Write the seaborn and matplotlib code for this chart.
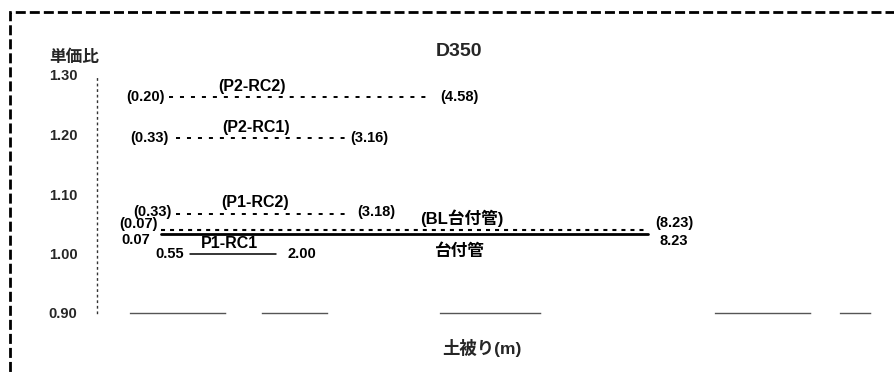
import numpy as np
import pandas as pd
import matplotlib
matplotlib.use("Agg")
import matplotlib.pyplot as plt
from matplotlib.patches import Rectangle
import seaborn as sns

# ---------------- data ----------------
series = ["P2-RC2", "P2-RC1", "P1-RC2", "BL台付管", "台付管", "P1-RC1"]
cover_min = [0.20, 0.33, 0.33, 0.07, 0.07, 0.55]
cover_max = [4.58, 3.16, 3.18, 8.23, 8.23, 2.00]
price_ratio = [1.263, 1.194, 1.067, 1.040, 1.033, 1.000]
bracketed = [True, True, True, True, False, False]
y_ticks = [0.90, 1.00, 1.10, 1.20, 1.30]
title = "D350"
y_label = "単価比"
x_label = "土被り(m)"

# ---------------- layout / style ----------------
sns.set_theme(style="white")
plt.rcParams["font.family"] = ["Liberation Sans", "Noto Sans CJK JP", "DejaVu Sans"]
plt.rcParams["lines.scale_dashes"] = False

line_dashes = {"P2-RC2": (2.9, 5.0), "P2-RC1": (2.9, 5.0), "P1-RC2": (2.9, 5.0),
               "BL台付管": (2.9, 3.6), "台付管": "", "P1-RC1": ""}
line_widths = {"P2-RC2": 1.4, "P2-RC1": 1.4, "P1-RC2": 1.4,
               "BL台付管": 1.5, "台付管": 2.0, "P1-RC1": 1.1}
# name label: x position (m) and vertical pixel offset
name_x = {"P2-RC2": 1.59, "P2-RC1": 1.66, "P1-RC2": 1.64,
          "BL台付管": 5.11, "台付管": 5.06, "P1-RC1": 1.22}
name_dy = {"P2-RC2": 11, "P2-RC1": 11, "P1-RC2": 11,
           "BL台付管": 11, "台付管": -17, "P1-RC1": 10}
start_off = {"P2-RC2": (-4, 0), "P2-RC1": (-8, 0), "P1-RC2": (-5, 2),
             "BL台付管": (-3, 6), "台付管": (-11, -6), "P1-RC1": (-6, 0)}
end_off = {"P2-RC2": (10, 0), "P2-RC1": (5, 0), "P1-RC2": (11, 2),
           "BL台付管": (7, 7), "台付管": (12, -7), "P1-RC1": (11, 0)}
label_size = 10.5
name_size_ascii = 11.5
name_size_cjk = 12

rows = []
for s, a, b, r in zip(series, cover_min, cover_max, price_ratio):
    rows.append({"series": s, "cover": a, "ratio": r})
    rows.append({"series": s, "cover": b, "ratio": r})
df = pd.DataFrame(rows)

fig = plt.figure(figsize=(8.95, 3.73), dpi=100)
ax = fig.add_axes([97 / 895, 60 / 373, 776 / 895, 238 / 373])

sns.lineplot(data=df, x="cover", y="ratio", hue="series", style="series",
             size="series", palette={s: "black" for s in series},
             dashes=line_dashes, sizes=line_widths, estimator=None,
             sort=False, legend=False, ax=ax)

ax.set_xlim(-1.0, 12.0)
ax.set_ylim(0.90, 1.30)
ax.set_xticks([])
ax.set_yticks(y_ticks)
ax.set_yticklabels([f"{v:.2f}" for v in y_ticks], fontsize=10.5, fontweight="bold")
ax.tick_params(axis="y", length=0, pad=14)

txt_kw = dict(fontsize=label_size, fontweight="bold", color="black")
for s, a, b, r, br in zip(series, cover_min, cover_max, price_ratio, bracketed):
    fmt = (lambda v: f"({v:.2f})") if br else (lambda v: f"{v:.2f}")
    ax.annotate(fmt(a), (a, r), xytext=start_off[s], textcoords="offset pixels",
                ha="right", va="center", **txt_kw)
    ax.annotate(fmt(b), (b, r), xytext=end_off[s], textcoords="offset pixels",
                ha="left", va="center", **txt_kw)
    name = f"({s})" if br else s
    size = name_size_ascii if name.isascii() else name_size_cjk
    ax.annotate(name, (name_x[s], r), xytext=(0, name_dy[s]),
                textcoords="offset pixels", ha="center", va="center",
                fontsize=size, fontweight="bold", color="black")

ax.text(0.466, 1.097, title, transform=ax.transAxes, ha="center", va="center",
        fontsize=14, fontweight="bold")
ax.set_ylabel(y_label, rotation=0, fontsize=12, fontweight="bold")
ax.yaxis.set_label_coords(-0.030, 1.076)
ax.yaxis.label.set_va("center")
ax.yaxis.label.set_ha("center")
ax.set_xlabel(x_label, fontsize=12.5, fontweight="bold")
ax.xaxis.set_label_coords(0.496, -0.147)
ax.xaxis.label.set_va("center")

for side in ["top", "right"]:
    ax.spines[side].set_visible(False)
ax.spines["left"].set_color("#333333")
ax.spines["left"].set_linewidth(1.0)
ax.spines["left"].set_linestyle((0, (1.0, 3.0)))
ax.spines["bottom"].set_color("#555555")
ax.spines["bottom"].set_linewidth(1.0)
ax.spines["bottom"].set_linestyle(
    (537.8, (68.4, 26.6, 46.8, 81.4, 72.0, 126.0, 68.4, 21.6, 21.6, 28.8)))

# dashed frame around the figure (open at right and bottom)
frame = Rectangle((10 / 895, -0.2), 1.3, 1.2 - 12 / 373, transform=fig.transFigure,
                  fill=False, edgecolor="black", linewidth=2.0,
                  linestyle=(0, (7.2, 2.9)), clip_on=False)
fig.add_artist(frame)

fig.savefig("out.png", dpi=100)
